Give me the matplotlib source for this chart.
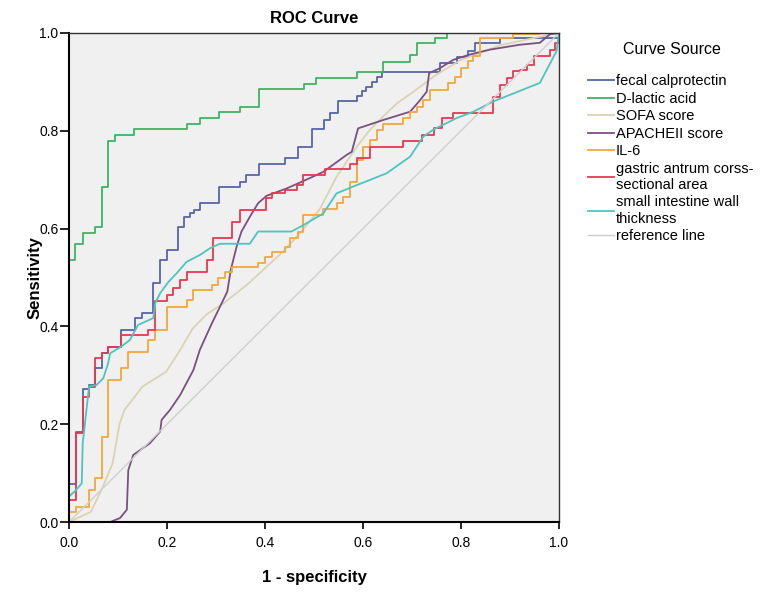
import matplotlib
matplotlib.use("Agg")
import matplotlib.pyplot as plt

plt.rcParams['font.family'] = ['Liberation Sans', 'DejaVu Sans']

# step curves (x where the jump happens, level after the jump)
fecal_x = [0, 0.014, 0.028, 0.041, 0.053, 0.067, 0.080, 0.107, 0.135, 0.148, 0.172, 0.186,
           0.199, 0.222, 0.235, 0.247, 0.255, 0.267, 0.307, 0.348, 0.361, 0.388, 0.441, 0.468,
           0.495, 0.520, 0.533, 0.548, 0.587, 0.597, 0.607, 0.618, 0.629, 0.638, 0.757, 0.791,
           0.815, 0.829, 0.880, 1.0]
fecal_y = [0.078, 0.185, 0.273, 0.280, 0.314, 0.346, 0.357, 0.393, 0.417, 0.427, 0.488, 0.536,
           0.556, 0.604, 0.624, 0.631, 0.638, 0.652, 0.686, 0.696, 0.710, 0.732, 0.744, 0.767,
           0.803, 0.823, 0.836, 0.860, 0.871, 0.881, 0.890, 0.900, 0.911, 0.920, 0.939, 0.950,
           0.963, 0.980, 0.990, 1.0]

lactic_x = [0, 0.012, 0.028, 0.053, 0.067, 0.080, 0.094, 0.133, 0.241, 0.267, 0.307, 0.348,
            0.388, 0.480, 0.505, 0.587, 0.641, 0.696, 0.710, 0.747, 0.772, 1.0]
lactic_y = [0.536, 0.569, 0.592, 0.604, 0.686, 0.780, 0.791, 0.803, 0.814, 0.826, 0.838, 0.849,
            0.885, 0.896, 0.907, 0.921, 0.941, 0.955, 0.979, 0.990, 1.0, 1.0]

il6_x = [0, 0.014, 0.041, 0.053, 0.067, 0.080, 0.107, 0.121, 0.162, 0.176, 0.199, 0.240,
         0.254, 0.291, 0.305, 0.318, 0.332, 0.386, 0.400, 0.414, 0.441, 0.451, 0.468, 0.478,
         0.519, 0.546, 0.560, 0.573, 0.587, 0.601, 0.614, 0.628, 0.641, 0.682, 0.696, 0.710,
         0.723, 0.737, 0.774, 0.788, 0.801, 0.815, 0.825, 0.839, 0.907, 0.960, 1.0]
il6_y = [0.021, 0.030, 0.065, 0.089, 0.174, 0.290, 0.314, 0.348, 0.372, 0.393, 0.440, 0.454,
         0.474, 0.485, 0.498, 0.512, 0.522, 0.530, 0.541, 0.553, 0.562, 0.580, 0.594, 0.628,
         0.641, 0.653, 0.665, 0.696, 0.740, 0.767, 0.781, 0.802, 0.814, 0.826, 0.839, 0.848,
         0.863, 0.884, 0.898, 0.911, 0.928, 0.942, 0.952, 0.990, 0.998, 1.0, 1.0]

gastric_x = [0, 0.014, 0.028, 0.041, 0.053, 0.067, 0.080, 0.107, 0.162, 0.176, 0.199, 0.213,
             0.227, 0.240, 0.281, 0.293, 0.332, 0.348, 0.402, 0.414, 0.441, 0.465, 0.478,
             0.522, 0.573, 0.587, 0.614, 0.682, 0.720, 0.744, 0.761, 0.784, 0.866, 0.880,
             0.893, 0.907, 0.920, 0.934, 0.948, 0.982, 0.992, 1.0]
gastric_y = [0.045, 0.181, 0.256, 0.277, 0.335, 0.345, 0.357, 0.382, 0.393, 0.452, 0.464, 0.478,
             0.495, 0.512, 0.536, 0.580, 0.614, 0.638, 0.662, 0.673, 0.679, 0.689, 0.710,
             0.721, 0.733, 0.744, 0.767, 0.780, 0.791, 0.806, 0.826, 0.836, 0.870, 0.894,
             0.908, 0.922, 0.925, 0.935, 0.952, 0.966, 0.980, 1.0]

# smoother curves (plain polylines)
sofa_x = [0, 0.045, 0.069, 0.089, 0.103, 0.113, 0.131, 0.150, 0.198, 0.227, 0.252, 0.281,
          0.315, 0.363, 0.437, 0.471, 0.512, 0.546, 0.587, 0.614, 0.641, 0.669, 0.703, 0.750,
          0.800, 0.880, 0.950, 1.0]
sofa_y = [0.0, 0.021, 0.072, 0.120, 0.200, 0.229, 0.252, 0.277, 0.307, 0.352, 0.395, 0.425,
          0.447, 0.485, 0.553, 0.590, 0.640, 0.706, 0.767, 0.802, 0.829, 0.856, 0.880, 0.915,
          0.945, 0.975, 0.990, 1.0]

apache_x = [0.07, 0.084, 0.104, 0.118, 0.121, 0.131, 0.165, 0.186, 0.189, 0.206, 0.227, 0.254,
            0.267, 0.291, 0.308, 0.323, 0.330, 0.342, 0.352, 0.369, 0.386, 0.403, 0.444, 0.471,
            0.519, 0.567, 0.577, 0.590, 0.641, 0.696, 0.716, 0.730, 0.735, 0.757, 0.784, 0.818,
            0.859, 0.920, 0.961, 0.982, 1.0]
apache_y = [0.0, 0.0, 0.008, 0.025, 0.106, 0.137, 0.161, 0.185, 0.209, 0.229, 0.260, 0.311,
            0.352, 0.405, 0.440, 0.471, 0.515, 0.563, 0.594, 0.624, 0.652, 0.667, 0.682, 0.694,
            0.716, 0.751, 0.757, 0.805, 0.822, 0.839, 0.862, 0.880, 0.918, 0.928, 0.945, 0.956,
            0.966, 0.976, 0.980, 0.998, 1.0]

wall_x = [0, 0.014, 0.026, 0.028, 0.041, 0.056, 0.070, 0.080, 0.084, 0.107, 0.124, 0.141,
          0.172, 0.176, 0.186, 0.203, 0.220, 0.240, 0.267, 0.288, 0.308, 0.369, 0.386, 0.454,
          0.478, 0.519, 0.546, 0.580, 0.648, 0.696, 0.723, 0.743, 0.791, 0.825, 0.866, 0.961,
          0.995, 1.0]
wall_y = [0.052, 0.065, 0.079, 0.161, 0.277, 0.280, 0.294, 0.325, 0.345, 0.359, 0.372, 0.403,
          0.417, 0.447, 0.468, 0.491, 0.509, 0.532, 0.546, 0.560, 0.569, 0.569, 0.594, 0.594,
          0.607, 0.631, 0.672, 0.686, 0.713, 0.747, 0.788, 0.802, 0.826, 0.839, 0.860, 0.898,
          0.963, 1.0]

ticks = [0.0, 0.2, 0.4, 0.6, 0.8, 1.0]

fig = plt.figure(figsize=(7.65, 5.92), dpi=100)
ax = fig.add_axes([69 / 765, 70 / 592, 490 / 765, 489 / 592])
ax.set_facecolor('#F0F0F0')

lw = 1.3
ax.plot(fecal_x, fecal_y, drawstyle='steps-post', color='#5566A6', lw=lw, label='fecal calprotectin')
ax.plot(lactic_x, lactic_y, drawstyle='steps-post', color='#3DB462', lw=lw, label='D-lactic acid')
ax.plot(sofa_x, sofa_y, color='#DAD3B3', lw=lw, label='SOFA score')
ax.plot(apache_x, apache_y, color='#7A4F82', lw=lw, label='APACHEII score')
ax.plot(il6_x, il6_y, drawstyle='steps-post', color='#F2A93B', lw=lw, label='IL-6')
ax.plot(gastric_x, gastric_y, drawstyle='steps-post', color='#E8384F', lw=lw,
        label='gastric antrum corss-\nsectional area')
ax.plot(wall_x, wall_y, color='#4DC4C0', lw=lw, label='small intestine wall\nthickness')
ax.plot([0, 1], [0, 1], color='#CFCFCF', lw=1.0, label='reference line')

ax.set_xlim(0, 1)
ax.set_ylim(0, 1)
ax.set_xticks(ticks)
ax.set_yticks(ticks)
ax.set_xticklabels(['%.1f' % t for t in ticks])
ax.set_yticklabels(['%.1f' % t for t in ticks])
ax.tick_params(direction='out', width=1.2, labelsize=10)
ax.tick_params(axis='x', length=5, pad=5)
ax.tick_params(axis='y', length=6.5, pad=1)
for s in ['left', 'bottom']:
    ax.spines[s].set_linewidth(1.5)
for s in ['top', 'right']:
    ax.spines[s].set_linewidth(1.0)
    ax.spines[s].set_color('#333333')

ax.set_title('ROC Curve', fontsize=12, fontweight='bold', pad=7)
ax.set_xlabel('1 - specificity', fontsize=12, fontweight='bold', labelpad=14.5)
ax.set_ylabel('Sensitivity', fontsize=12, fontweight='bold', labelpad=-2.5)

fig.text(672 / 765, 1 - 50 / 592, 'Curve Source', fontsize=11.5, ha='center', va='center')
leg = fig.legend(loc='upper left', bbox_to_anchor=(575 / 765, 1 - 61 / 592), frameon=False,
                 fontsize=10.5, handlelength=1.8, handletextpad=0.1, labelspacing=0.24)

fig.savefig('out.png', dpi=100)
